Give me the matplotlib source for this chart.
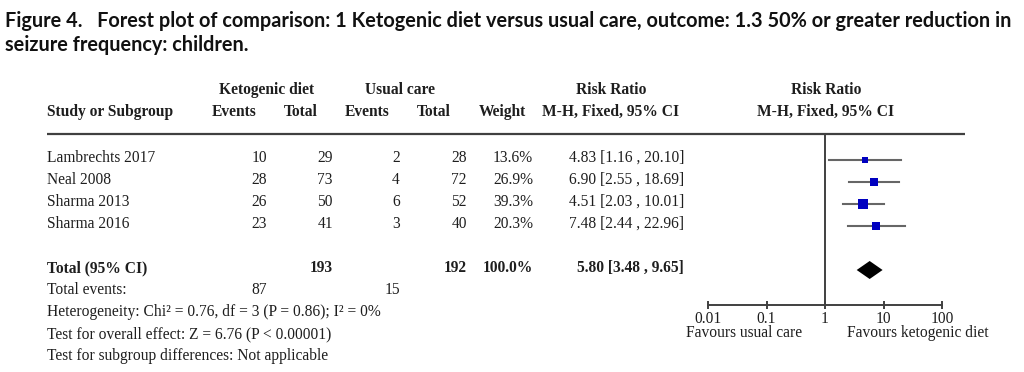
"""
Forest plot: ketogenic diet vs usual care, 50% or greater seizure reduction (children).
"""
import matplotlib
matplotlib.use("Agg")
import matplotlib.pyplot as plt


studies = ["Lambrechts 2017", "Neal 2008", "Sharma 2013", "Sharma 2016"]
keto_events = [10, 28, 26, 23]
keto_total = [29, 73, 50, 41]
usual_events = [2, 4, 6, 3]
usual_total = [28, 72, 52, 40]
weight = [13.6, 26.9, 39.3, 20.3]
rr = [4.83, 6.90, 4.51, 7.48]
ci_lo = [1.16, 2.55, 2.03, 2.44]
ci_hi = [20.10, 18.69, 10.01, 22.96]

total_keto, total_usual, total_weight = 193, 192, 100.0
total_rr, total_lo, total_hi = 5.80, 3.48, 9.65
events_keto, events_usual = 87, 15

axis_ticks = [0.01, 0.1, 1, 10, 100]
axis_labels = ["0.01", "0.1", "1", "10", "100"]

title = ("Figure 4.   Forest plot of comparison: 1 Ketogenic diet versus usual care, "
         "outcome: 1.3 50% or greater reduction in\nseizure frequency: children.")
footnotes = [
    "Heterogeneity: Chi\u00b2 = 0.76, df = 3 (P = 0.86); I\u00b2 = 0%",
    "Test for overall effect: Z = 6.76 (P < 0.00001)",
    "Test for subgroup differences: Not applicable",
]

# layout (pixel rows of the 1024x372 canvas)
W, H = 1024, 372
ROW_Y = [158, 180, 202, 224]
TOTAL_Y = 268
EVENTS_Y = 290
FOOT_Y = [312, 334, 356]
RULE_Y = 134
AXIS_Y = 305
X0, X1 = 708, 942          # 0.01 .. 100 on the forest axis

SERIF = "Liberation Serif"
FS = 11.2
TXT = "#1e1e1e"
LINE = "#404040"
BLUE = "#0000c0"

fig = plt.figure(figsize=(W / 100, H / 100), dpi=100)
ax = fig.add_axes([0, 0, 1, 1])
ax.set_xlim(0, W)
ax.set_ylim(H, 0)
ax.axis("off")

ax.text(5, 33, title, family="Lato", fontweight="bold", fontsize=14.3,
        color="#111111", va="center", ha="left", linespacing=1.2)


def t(x, y, s, ha="left", bold=False):
    ax.text(x, y, s, family=SERIF, fontsize=FS, color=TXT, ha=ha, va="center",
            fontweight="bold" if bold else "normal")


# headers
t(267, 90, "Ketogenic diet", "center", True)
t(400, 90, "Usual care", "center", True)
t(611, 90, "Risk Ratio", "center", True)
t(826, 90, "Risk Ratio", "center", True)
t(47, 112, "Study or Subgroup", "left", True)
t(234, 112, "Events", "center", True)
t(301, 112, "Total", "center", True)
t(367, 112, "Events", "center", True)
t(434, 112, "Total", "center", True)
t(502, 112, "Weight", "center", True)
t(611, 112, "M-H, Fixed, 95% CI", "center", True)
t(826, 112, "M-H, Fixed, 95% CI", "center", True)
ax.plot([47, 965], [RULE_Y, RULE_Y], color=LINE, lw=1.6, solid_capstyle="butt")

# study rows
for i, name in enumerate(studies):
    y = ROW_Y[i]
    t(47, y, name)
    t(267, y, str(keto_events[i]), "right")
    t(333, y, str(keto_total[i]), "right")
    t(400, y, str(usual_events[i]), "right")
    t(467, y, str(usual_total[i]), "right")
    t(533, y, f"{weight[i]:.1f}%", "right")
    t(684, y, f"{rr[i]:.2f} [{ci_lo[i]:.2f} , {ci_hi[i]:.2f}]", "right")

t(47, TOTAL_Y, "Total (95% CI)", bold=True)
t(333, TOTAL_Y, str(total_keto), "right", True)
t(467, TOTAL_Y, str(total_usual), "right", True)
t(533, TOTAL_Y, f"{total_weight:.1f}%", "right", True)
t(684, TOTAL_Y, f"{total_rr:.2f} [{total_lo:.2f} , {total_hi:.2f}]", "right", True)

t(47, EVENTS_Y, "Total events:")
t(267, EVENTS_Y, str(events_keto), "right")
t(400, EVENTS_Y, str(events_usual), "right")
for y, s in zip(FOOT_Y, footnotes):
    t(47, y, s)

# forest panel, y in the same pixel rows
fa = fig.add_axes([X0 / W, 1 - AXIS_Y / H, (X1 - X0) / W, (AXIS_Y - RULE_Y) / H])
fa.patch.set_alpha(0)
fa.set_xscale("log")
fa.set_xlim(axis_ticks[0], axis_ticks[-1])
fa.set_ylim(AXIS_Y, RULE_Y)
for side in ["left", "right", "top"]:
    fa.spines[side].set_visible(False)
fa.spines["bottom"].set_color(LINE)
fa.spines["bottom"].set_linewidth(1.4)
fa.set_yticks([])
fa.set_xticks(axis_ticks)
fa.set_xticklabels(axis_labels, family=SERIF, fontsize=FS, color=TXT)
fa.minorticks_off()
fa.tick_params(axis="x", direction="inout", length=6, width=1.4, color=LINE, pad=1)

fa.axvline(1, color=LINE, lw=1.4)
for i in range(len(studies)):
    y = ROW_Y[i] + 2
    fa.plot([ci_lo[i], ci_hi[i]], [y, y], color="#666666", lw=1.5)
    fa.plot(rr[i], y, marker="s", color=BLUE, ms=1.2 * weight[i] ** 0.5,
            mec=BLUE, mew=0)

yd = TOTAL_Y + 2
fa.fill([total_lo, total_rr, total_hi, total_rr], [yd, yd - 9, yd, yd + 9],
        color="black", lw=0)

t(744, 333, "Favours usual care", "center")
t(918, 333, "Favours ketogenic diet", "center")

fig.savefig("out.png", dpi=100)
